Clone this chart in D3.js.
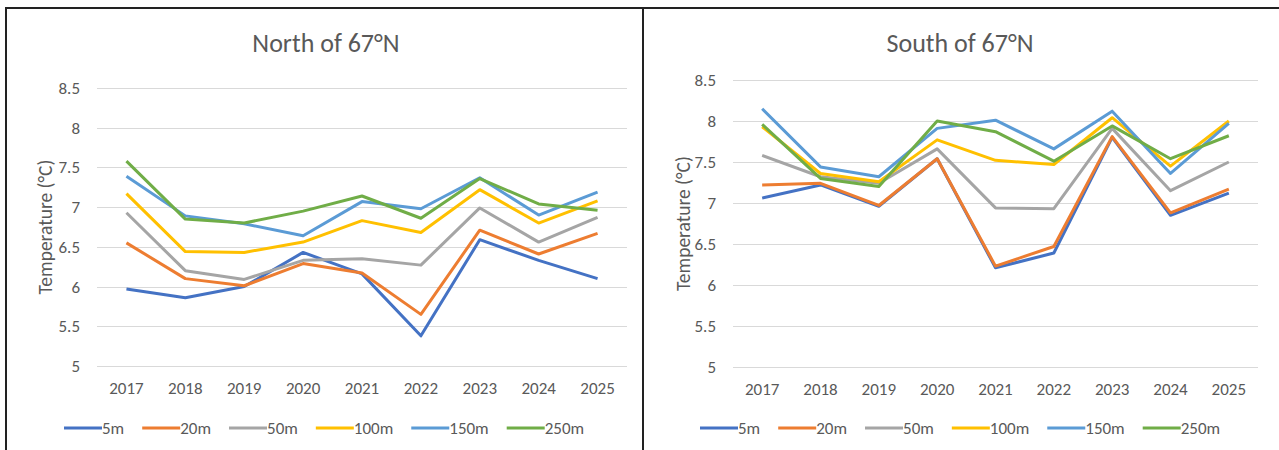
<!DOCTYPE html>
<meta charset="utf-8">
<style>
    body { margin: 0; background: #fff; }
    svg text { font-family: Carlito, Lato, "Open Sans", sans-serif; fill: #595959; }
    .grid line { stroke: #d9d9d9; stroke-width: 1; }
    .frame { fill: none; stroke: #222; stroke-width: 2; }
</style>
<body>
<script src="https://cdn.jsdelivr.net/npm/d3@7"></script>
<script>
    var years = ["2017", "2018", "2019", "2020", "2021", "2022", "2023", "2024", "2025"];
    var depths = ["5m", "20m", "50m", "100m", "150m", "250m"];
    var colors = ["#4472C4", "#ED7D31", "#A5A5A5", "#FFC000", "#5B9BD5", "#70AD47"];
    var yTicks = [5, 5.5, 6, 6.5, 7, 7.5, 8, 8.5];

    // North of 67N, one row per depth
    var north5 = [5.97, 5.86, 6.00, 6.43, 6.16, 5.38, 6.59, 6.33, 6.10];
    var north20 = [6.55, 6.10, 6.01, 6.29, 6.17, 5.65, 6.71, 6.41, 6.67];
    var north50 = [6.93, 6.20, 6.09, 6.33, 6.35, 6.27, 6.99, 6.56, 6.87];
    var north100 = [7.17, 6.44, 6.43, 6.56, 6.83, 6.68, 7.22, 6.80, 7.08];
    var north150 = [7.39, 6.89, 6.79, 6.64, 7.07, 6.98, 7.37, 6.90, 7.19];
    var north250 = [7.58, 6.85, 6.80, 6.95, 7.14, 6.86, 7.36, 7.04, 6.96];

    // South of 67N
    var south5 = [7.06, 7.22, 6.96, 7.54, 6.21, 6.39, 7.80, 6.85, 7.12];
    var south20 = [7.22, 7.24, 6.97, 7.54, 6.23, 6.47, 7.81, 6.88, 7.17];
    var south50 = [7.58, 7.32, 7.24, 7.66, 6.94, 6.93, 7.91, 7.15, 7.50];
    var south100 = [7.93, 7.36, 7.26, 7.77, 7.52, 7.47, 8.04, 7.45, 8.00];
    var south150 = [8.15, 7.44, 7.32, 7.91, 8.01, 7.66, 8.12, 7.36, 7.97];
    var south250 = [7.96, 7.30, 7.20, 8.00, 7.87, 7.51, 7.94, 7.54, 7.82];

    var svg = d3.select("body").append("svg")
        .attr("width", 1279)
        .attr("height", 450);

    function drawPanel(p) {
        var g = svg.append("g");

        g.append("rect").attr("class", "frame")
            .attr("x", p.fx0).attr("y", 8)
            .attr("width", p.fx1 - p.fx0).attr("height", 480);

        var x = d3.scalePoint().domain(years).range([p.x0, p.x1]).padding(0.5);
        var y = d3.scaleLinear().domain([5, 8.5]).range([p.yb, p.yt]);

        g.append("g").attr("class", "grid")
            .selectAll("line").data(yTicks).enter().append("line")
            .attr("x1", p.x0).attr("x2", p.x1)
            .attr("y1", d => Math.round(y(d)) + 0.5)
            .attr("y2", d => Math.round(y(d)) + 0.5);

        g.selectAll(".ytick").data(yTicks).enter().append("text")
            .attr("x", p.x0 - 17)
            .attr("y", d => y(d) + 6)
            .attr("text-anchor", "end")
            .style("font-size", "17px")
            .text(d => d);

        g.selectAll(".xtick").data(years).enter().append("text")
            .attr("x", d => x(d))
            .attr("y", p.yb + 28)
            .attr("text-anchor", "middle")
            .style("font-size", "17px")
            .text(d => d);

        g.append("text")
            .attr("transform", "translate(" + p.ax + "," + ((p.yt + p.yb) / 2) + ") rotate(-90)")
            .attr("text-anchor", "middle")
            .attr("dy", "0.35em")
            .style("font-size", "19.5px")
            .text("Temperature (°C)");

        g.append("text")
            .attr("x", p.tx)
            .attr("y", 52)
            .attr("text-anchor", "middle")
            .style("font-size", "26px")
            .text(p.title);

        var line = d3.line()
            .x((d, i) => x(years[i]))
            .y(d => y(d));

        p.series.forEach(function(s, k) {
            g.append("path")
                .datum(s)
                .attr("d", line)
                .attr("fill", "none")
                .attr("stroke", colors[k])
                .attr("stroke-width", 3)
                .attr("stroke-linejoin", "round");
        });

        // legend
        var lg = g.append("g");
        var cx = 0;
        depths.forEach(function(d, k) {
            lg.append("line")
                .attr("x1", cx).attr("x2", cx + 38)
                .attr("y1", 0).attr("y2", 0)
                .attr("stroke", colors[k]).attr("stroke-width", 3);
            var t = lg.append("text")
                .attr("x", cx + 38)
                .attr("y", 6)
                .style("font-size", "17px")
                .text(d);
            cx += 38 + t.node().getComputedTextLength() + 18;
        });
        lg.attr("transform", "translate(" + p.lx + ",428)");
    }

    drawPanel({
        title: "North of 67°N", fx0: 6, fx1: 643, lx: 64, tx: 326,
        x0: 97, x1: 627, yt: 88, yb: 366, ax: 45,
        series: [north5, north20, north50, north100, north150, north250]
    });
    drawPanel({
        title: "South of 67°N", fx0: 643, fx1: 1290, lx: 700, tx: 960,
        x0: 733, x1: 1258, yt: 80, yb: 367, ax: 683,
        series: [south5, south20, south50, south100, south150, south250]
    });
</script>
</body>
